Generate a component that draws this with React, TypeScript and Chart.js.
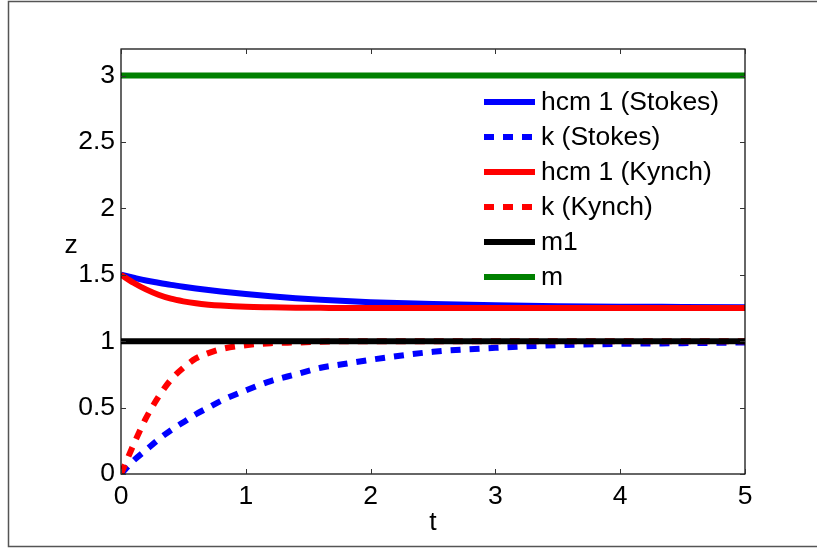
import { useEffect, useRef } from 'react';
import { Chart, registerables } from 'chart.js';

Chart.register(...registerables);

const FONT = '"Liberation Sans", Arial, Helvetica, sans-serif';
const FONT_SIZE = 26.5;

// time samples
const tValues = [0, 0.1, 0.2, 0.3, 0.4, 0.5, 0.6, 0.7, 0.8, 1, 1.2, 1.4, 1.6, 1.8, 2, 2.5, 3, 3.5, 4, 4.5, 5];

// series sampled at tValues
const hcmStokes = [1.5, 1.478, 1.457, 1.44, 1.424, 1.41, 1.397, 1.385, 1.374, 1.355, 1.338, 1.324, 1.312, 1.302, 1.294, 1.28, 1.27, 1.264, 1.26, 1.258, 1.256];
const kStokes = [0, 0.1, 0.18, 0.26, 0.33, 0.39, 0.45, 0.5, 0.55, 0.63, 0.7, 0.75, 0.8, 0.83, 0.86, 0.92, 0.95, 0.97, 0.98, 0.985, 0.99];
const hcmKynch = [1.5, 1.44, 1.39, 1.35, 1.32, 1.3, 1.285, 1.275, 1.268, 1.259, 1.255, 1.252, 1.251, 1.25, 1.25, 1.25, 1.25, 1.25, 1.25, 1.25, 1.25];
const kKynch = [0, 0.22, 0.42, 0.58, 0.71, 0.8, 0.87, 0.91, 0.94, 0.97, 0.985, 0.99, 0.995, 1, 1, 1, 1, 1, 1, 1, 1];
const m1Level = [1, 1];
const mLevel = [3, 3];
const levelT = [0, 5];

const seriesLabels = ['hcm 1 (Stokes)', 'k (Stokes)', 'hcm 1 (Kynch)', 'k (Kynch)', 'm1', 'm'];

const xTicks = [0, 1, 2, 3, 4, 5];
const yTicks = [0, 0.5, 1, 1.5, 2, 2.5, 3];

const DASH = [10, 9];

const toPoints = (xs: number[], ys: number[]) => xs.map((x, i) => ({ x, y: ys[i] }));

const legendItems = [
  { label: seriesLabels[0], color: '#0000ff', dash: [] as number[] },
  { label: seriesLabels[1], color: '#0000ff', dash: DASH },
  { label: seriesLabels[2], color: '#ff0000', dash: [] as number[] },
  { label: seriesLabels[3], color: '#ff0000', dash: DASH },
  { label: seriesLabels[4], color: '#000000', dash: [] as number[] },
  { label: seriesLabels[5], color: '#008000', dash: [] as number[] },
];

const framePlugin = {
  id: 'frame',
  beforeDraw(chart: any) {
    const ctx = chart.ctx;
    ctx.save();
    ctx.fillStyle = '#ffffff';
    ctx.fillRect(0, 0, chart.width, chart.height);
    ctx.strokeStyle = '#555555';
    ctx.lineWidth = 1.5;
    ctx.strokeRect(8.5, 1.5, chart.width + 10, chart.height - 3);
    ctx.restore();
  },
  afterDatasetsDraw(chart: any) {
    const ctx = chart.ctx;
    const { left, right, top, bottom } = chart.chartArea;
    const xs = chart.scales.x;
    const ys = chart.scales.y;
    ctx.save();
    // axes box
    ctx.strokeStyle = '#000000';
    ctx.lineWidth = 1.2;
    ctx.strokeRect(left, top, right - left, bottom - top);
    // inward tick marks
    ctx.strokeStyle = '#333333';
    ctx.lineWidth = 1;
    const tl = 5;
    ctx.beginPath();
    xTicks.forEach((v) => {
      const px = Math.round(xs.getPixelForValue(v)) + 0.5;
      ctx.moveTo(px, bottom);
      ctx.lineTo(px, bottom - tl);
      ctx.moveTo(px, top);
      ctx.lineTo(px, top + tl);
    });
    yTicks.forEach((v) => {
      const py = Math.round(ys.getPixelForValue(v)) + 0.5;
      ctx.moveTo(left, py);
      ctx.lineTo(left + tl, py);
      ctx.moveTo(right, py);
      ctx.lineTo(right - tl, py);
    });
    ctx.stroke();

    // axis titles
    ctx.fillStyle = '#000000';
    ctx.font = `${FONT_SIZE}px ${FONT}`;
    ctx.textAlign = 'center';
    ctx.textBaseline = 'middle';
    ctx.fillText('t', (left + right) / 2, 523);
    ctx.fillText('z', 71, 246);

    // legend
    const lx0 = 484;
    const lx1 = 535;
    const rowY0 = 102;
    const rowStep = 35;
    ctx.textAlign = 'left';
    legendItems.forEach((item, i) => {
      const y = rowY0 + i * rowStep;
      ctx.strokeStyle = item.color;
      ctx.lineWidth = 6;
      ctx.lineCap = 'butt';
      ctx.setLineDash(item.dash);
      ctx.beginPath();
      ctx.moveTo(lx0, y);
      ctx.lineTo(lx1, y);
      ctx.stroke();
      ctx.setLineDash([]);
      ctx.fillStyle = '#000000';
      ctx.fillText(item.label, 541, y + 1);
    });
    ctx.restore();
  },
};

export default function App() {
  const canvasRef = useRef<HTMLCanvasElement | null>(null);

  useEffect(() => {
    if (!canvasRef.current) return;
    const lineBase = {
      borderWidth: 6,
      pointRadius: 0,
      pointHoverRadius: 0,
      fill: false,
      cubicInterpolationMode: 'monotone' as const,
      borderCapStyle: 'butt' as const,
    };
    // first dataset is painted last, so the order is reversed relative to the legend
    const datasets = [
      { ...lineBase, label: seriesLabels[5], data: toPoints(levelT, mLevel), borderColor: '#008000' },
      { ...lineBase, label: seriesLabels[4], data: toPoints(levelT, m1Level), borderColor: '#000000' },
      { ...lineBase, label: seriesLabels[3], data: toPoints(tValues, kKynch), borderColor: '#ff0000', borderDash: DASH },
      { ...lineBase, label: seriesLabels[2], data: toPoints(tValues, hcmKynch), borderColor: '#ff0000' },
      { ...lineBase, label: seriesLabels[1], data: toPoints(tValues, kStokes), borderColor: '#0000ff', borderDash: DASH },
      { ...lineBase, label: seriesLabels[0], data: toPoints(tValues, hcmStokes), borderColor: '#0000ff' },
    ];

    const tickFont = { family: FONT, size: FONT_SIZE };

    const chart = new Chart(canvasRef.current, {
      type: 'line',
      data: { datasets },
      options: {
        animation: false,
        responsive: false,
        devicePixelRatio: 1,
        layout: { padding: { top: 49, right: 72, left: 0, bottom: 0 } },
        plugins: {
          legend: { display: false },
          tooltip: { enabled: false },
          title: { display: false },
        },
        scales: {
          x: {
            type: 'linear',
            min: 0,
            max: 5,
            grid: { display: false, drawTicks: false },
            border: { display: false },
            ticks: {
              font: tickFont,
              color: '#000000',
              padding: 7,
              maxRotation: 0,
              autoSkip: false,
              callback: (v: any) => String(v),
            },
            afterBuildTicks: (s: any) => {
              s.ticks = xTicks.map((value) => ({ value }));
            },
            afterFit: (s: any) => {
              s.height = 74;
            },
          },
          y: {
            type: 'linear',
            min: 0,
            max: 3.2,
            grid: { display: false, drawTicks: false },
            border: { display: false },
            ticks: {
              font: tickFont,
              color: '#000000',
              padding: 6,
              autoSkip: false,
              callback: (v: any) => String(v),
            },
            afterBuildTicks: (s: any) => {
              s.ticks = yTicks.map((value) => ({ value }));
            },
            afterFit: (s: any) => {
              s.width = 121;
            },
          },
        },
      },
      plugins: [framePlugin],
    });
    return () => chart.destroy();
  }, []);

  return (
    <div style={{ position: 'absolute', left: 0, top: 0, width: 817, height: 548 }}>
      <canvas ref={canvasRef} width={817} height={548} />
    </div>
  );
}
